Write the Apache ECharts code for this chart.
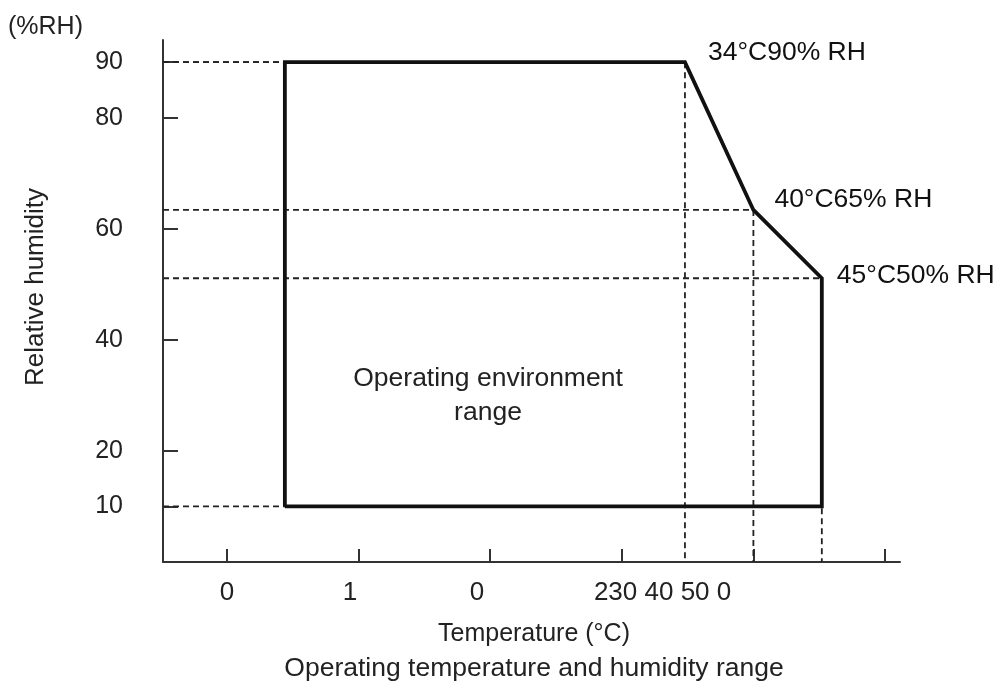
<!DOCTYPE html>
<html>
<head>
	<meta charset="utf-8">
	<title>Operating temperature and humidity range</title>
	<style>
		html, body { margin:0; padding:0; background:#fff; }
		#chart { width:1001px; height:681px; }
	</style>
	<script src="https://cdn.jsdelivr.net/npm/echarts@6/dist/echarts.min.js"></script>
</head>
<body>
	<div id="chart"></div>
	<script type="text/javascript">
		// data (x in the chart's own tick units, y in %RH)
		var rangeX = [4.4, 4.4, 34.8, 40.0, 45.2, 45.2, 4.4];
		var rangeY = [10, 90, 90, 63.4, 51.1, 10, 10];
		// corner points that get a dashed guide and a label
		var cornerX = [4.4, 34.8, 40.0, 45.2, 4.4];
		var cornerY = [90, 90, 63.4, 51.1, 10];
		var cornerText = ['', '34°C90% RH', '40°C65% RH', '45°C50% RH', ''];
		// axis ticks and labels
		var xTicks = [0, 10, 20, 30, 40, 50];
		var xLabelAt = [0, 9.35, 19.0, 33.1];
		var xLabelText = ['0', '1', '0', '230 40 50 0'];
		var yTicks = [10, 20, 40, 60, 80, 90];

		var font = "'Liberation Sans', Arial, sans-serif";
		var xMin = -4.86, xMax = 51.14;

		function pts(xs, ys){
			var list = [];
			for (var i = 0; i < xs.length; i++){
				list.push([xs[i], ys[i]]);
			}
			return list;
		}

		var dash = { color:'#222', width:1.8, type:[6,4] };
		var series = [];
		// dashed guides: horizontal to the y axis, vertical down to the x axis
		for (var i = 0; i < cornerX.length; i++){
			series.push({
				type:'line', symbol:'none', silent:true, z:1,
				lineStyle:dash,
				data:[[xMin, cornerY[i]], [cornerX[i], cornerY[i]]]
			});
			if (cornerText[i] !== ''){
				series.push({
					type:'line', symbol:'none', silent:true, z:1,
					lineStyle:dash,
					data:[[cornerX[i], cornerY[i]], [cornerX[i], 0]]
				});
			}
		}
		// the operating range outline
		series.push({
			type:'line', symbol:'none', z:3,
			lineStyle:{ color:'#111', width:3.8, join:'miter' },
			data: pts(rangeX, rangeY)
		});
		// corner labels
		var offsets = [[0,0], [18,-10], [16,-10], [10,-3], [0,0]];
		var labelData = [];
		for (var j = 0; j < cornerX.length; j++){
			if (cornerText[j] === '') continue;
			labelData.push({
				value:[cornerX[j], cornerY[j]],
				name: cornerText[j],
				label:{ offset: offsets[j] }
			});
		}
		series.push({
			type:'scatter', symbolSize:0, z:4,
			itemStyle:{ opacity:1 },
			data: labelData,
			label:{
				show:true, position:'right', distance:5,
				formatter:function(p){ return p.name; },
				color:'#111', opacity:1, textBorderWidth:0,
				fontSize:26.5, fontFamily:font
			}
		});

		var myChart = echarts.init(document.getElementById('chart'));
		var option = {
			animation:false,
			backgroundColor:'#fff',
			title:[{
				text:'(%RH)', left:3, top:10,
				textStyle:{ color:'#222', fontSize:25, fontWeight:'normal', fontFamily:font }
			},{
				text:'Operating temperature and humidity range', left:529, top:650, textAlign:'center',
				textStyle:{ color:'#222', fontSize:26.5, fontWeight:'normal', fontFamily:font }
			}],
			grid:{ left:163, right:101, top:40, bottom:119, outerBoundsMode:'none' },
			xAxis:{
				type:'value', min:xMin, max:xMax,
				name:'Temperature (°C)', nameLocation:'middle', nameGap:60,
				nameTextStyle:{ color:'#222', fontSize:25, fontFamily:font, padding:[0,0,0,5] },
				axisLine:{ onZero:false, lineStyle:{ color:'#333', width:2 } },
				axisTick:{ show:true, inside:true, length:13, customValues:xTicks, lineStyle:{ color:'#333', width:2 } },
				axisLabel:{
					customValues:xLabelAt, margin:18,
					color:'#222', fontSize:26, fontFamily:font,
					formatter:function(v){
						for (var k = 0; k < xLabelAt.length; k++){
							if (Math.abs(xLabelAt[k] - v) < 0.01) return xLabelText[k];
						}
						return '';
					}
				},
				splitLine:{ show:false }
			},
			yAxis:{
				type:'value', min:0, max:94,
				name:'Relative humidity', nameLocation:'middle', nameRotate:90, nameGap:114,
				nameTextStyle:{ color:'#222', fontSize:26, fontFamily:font, padding:[0,0,0,28] },
				axisLine:{ show:true, onZero:false, lineStyle:{ color:'#333', width:2 } },
				axisTick:{ show:true, inside:true, length:15, customValues:yTicks, lineStyle:{ color:'#333', width:2 } },
				axisLabel:{ customValues:yTicks, margin:40, color:'#222', fontSize:25, fontFamily:font },
				splitLine:{ show:false }
			},
			graphic:[{
				type:'text', x:488, y:362,
				style:{
					text:'Operating environment\nrange', fill:'#222',
					font:'26.5px ' + font, textAlign:'center', lineHeight:34
				}
			}],
			series: series
		};
		myChart.setOption(option);
	</script>
</body>
</html>
